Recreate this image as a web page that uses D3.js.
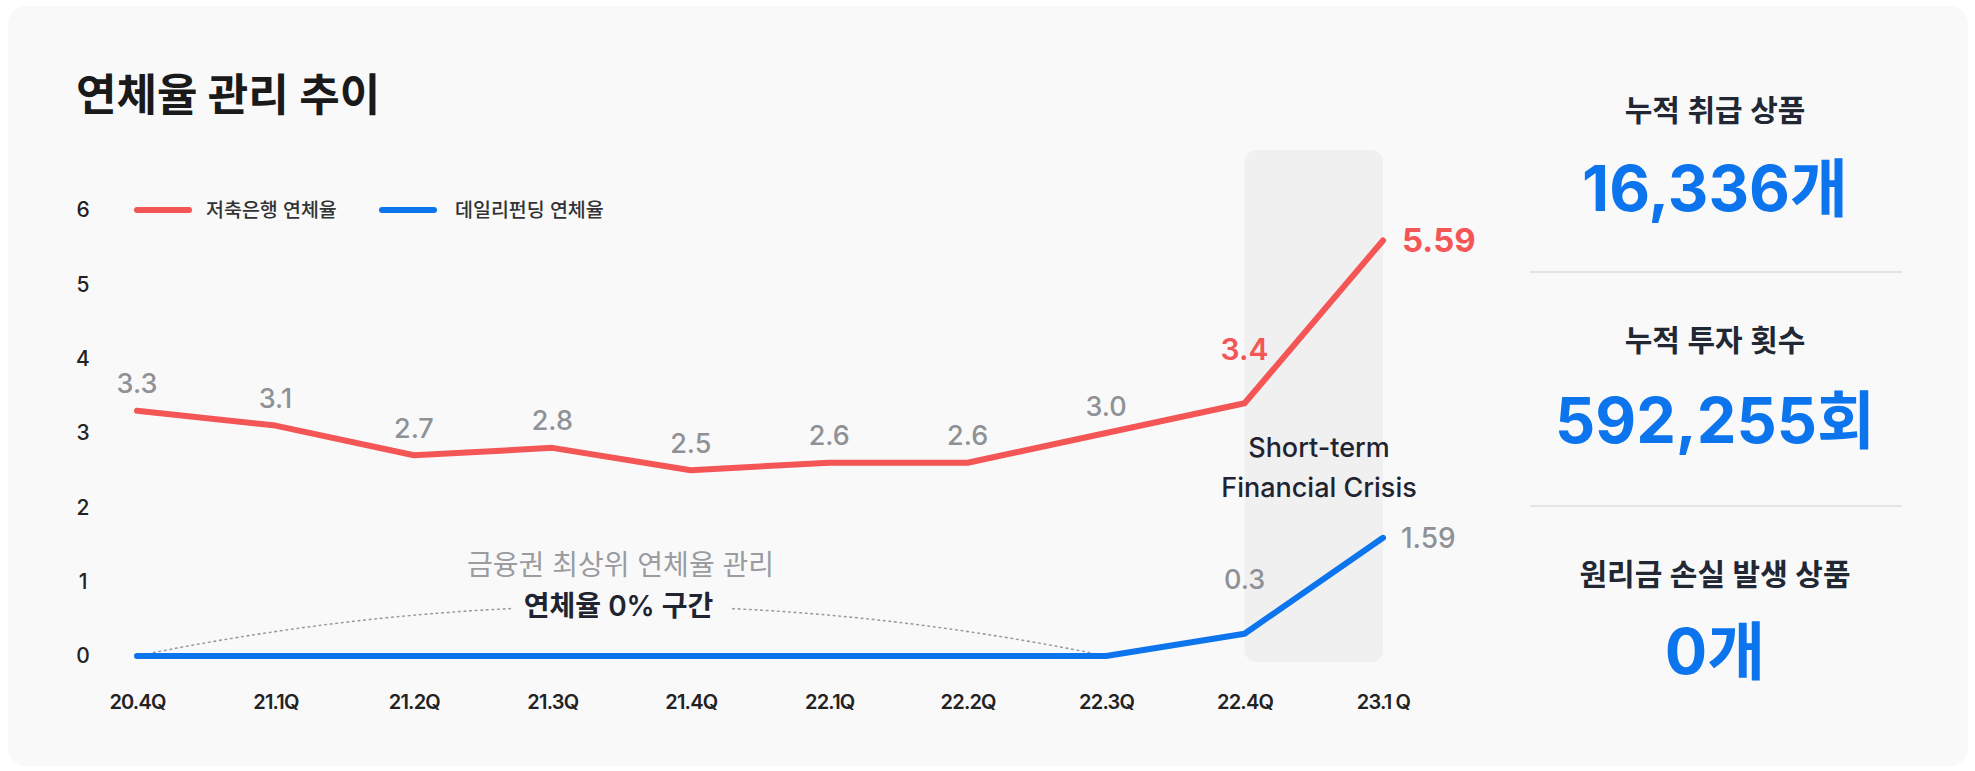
<!DOCTYPE html>
<html>
<head>
<meta charset="utf-8">
<script src="https://cdn.jsdelivr.net/npm/d3@7/dist/d3.min.js"></script>
<style>
  html, body { margin: 0; padding: 0; background: #ffffff; }
  svg { display: block; font-family: Inter, "Noto Sans CJK KR", "Noto Sans", sans-serif; }
</style>
</head>
<body>
<svg id="chart" width="1975" height="771"></svg>
<script>
// ---- data ----
const categories = ["20.4Q","21.1Q","21.2Q","21.3Q","21.4Q","22.1Q","22.2Q","22.3Q","22.4Q","23.1 Q"];
const savingsBankRate = [3.3, 3.1, 2.7, 2.8, 2.5, 2.6, 2.6, 3.0, 3.4, 5.59];
const dailyFundingRate = [0, 0, 0, 0, 0, 0, 0, 0, 0.3, 1.59];
const savingsLabels = ["3.3","3.1","2.7","2.8","2.5","2.6","2.6","3.0","3.4","5.59"];
const dailyLabels = ["0.3","1.59"];
const yTicks = [0, 1, 2, 3, 4, 5, 6];
const seriesNames = ["저축은행 연체율", "데일리펀딩 연체율"];
const stats = [
  { title: "누적 취급 상품", value: "16,336개" },
  { title: "누적 투자 횟수", value: "592,255회" },
  { title: "원리금 손실 발생 상품", value: "0개" }
];

// ---- styles ----
const RED = "#f45656", BLUE = "#0c74ec", GRAY = "#8e9196", DARK = "#1f2430", CARD = "#f9f9fa";

const svg = d3.select("#chart");
svg.append("rect").attr("x", 8).attr("y", 6).attr("width", 1960).attr("height", 760)
  .attr("rx", 18).attr("fill", CARD);

// title
svg.append("text").attr("x", 76).attr("y", 111).attr("font-size", 44).attr("font-weight", 700)
  .attr("fill", "#1a1a1a").text("연체율 관리 추이");

const x = d3.scalePoint().domain(categories).range([137, 1383]);
const y = d3.scaleLinear().domain([0, 6]).range([656, 210]);

// crisis band
const bx0 = x(categories[8]), bx1 = x(categories[9]);
svg.append("rect").attr("x", bx0).attr("y", 150).attr("width", bx1 - bx0).attr("height", 512)
  .attr("rx", 12).attr("fill", "#f0f0f1");
svg.append("text").attr("x", 1319).attr("y", 447).attr("text-anchor", "middle").attr("dominant-baseline", "central")
  .attr("font-size", 27).attr("font-weight", 500).attr("fill", DARK).text("Short-term");
svg.append("text").attr("x", 1319).attr("y", 487).attr("text-anchor", "middle").attr("dominant-baseline", "central")
  .attr("font-size", 27).attr("font-weight", 500).attr("fill", DARK).text("Financial Crisis");

// y axis
const yAxis = svg.append("g").attr("transform", "translate(90,0)")
  .call(d3.axisLeft(y).tickValues(yTicks).tickSize(0).tickPadding(0).tickFormat(d3.format("d")));
yAxis.select(".domain").remove();
yAxis.selectAll("text").attr("font-size", 21).attr("font-weight", 500).attr("fill", "#222")
  .attr("font-family", "Inter, 'Noto Sans CJK KR', sans-serif").attr("text-anchor", "middle").attr("x", -7);

// x axis
const xAxis = svg.append("g").attr("transform", "translate(0,695)")
  .call(d3.axisBottom(x).tickSize(0).tickPadding(0));
xAxis.select(".domain").remove();
xAxis.selectAll("text").attr("font-size", 20).attr("font-weight", 600).attr("fill", "#222")
  .attr("letter-spacing", -0.8).attr("font-family", "Inter, 'Noto Sans CJK KR', sans-serif");

// zero-rate annotation arc
const ax0 = x(categories[0]), ax1 = x(categories[7]), axm = (ax0 + ax1) / 2;
svg.append("path")
  .attr("d", `M${ax0},${y(0)} Q${axm},${y(0) - 100} ${ax1},${y(0)}`)
  .attr("fill", "none").attr("stroke", "#9a9ca0").attr("stroke-width", 1.6)
  .attr("stroke-dasharray", "1.6,4").attr("stroke-linecap", "round");
svg.append("rect").attr("x", axm - 110).attr("y", 586).attr("width", 220).attr("height", 40).attr("fill", CARD);
svg.append("text").attr("x", axm - 1).attr("y", 565).attr("text-anchor", "middle").attr("dominant-baseline", "central")
  .attr("font-size", 28).attr("font-weight", 400).attr("fill", "#9a9ca0").text("금융권 최상위 연체율 관리");
svg.append("text").attr("x", axm - 3).attr("y", 606).attr("text-anchor", "middle").attr("dominant-baseline", "central")
  .attr("font-size", 28).attr("font-weight", 600).attr("fill", DARK).text("연체율 0% 구간");

// lines
const line = d3.line().x((d, i) => x(categories[i])).y(d => y(d));
svg.append("path").datum(dailyFundingRate).attr("d", line).attr("fill", "none")
  .attr("stroke", BLUE).attr("stroke-width", 6).attr("stroke-linecap", "round").attr("stroke-linejoin", "round");
svg.append("path").datum(savingsBankRate).attr("d", line).attr("fill", "none")
  .attr("stroke", RED).attr("stroke-width", 6).attr("stroke-linecap", "round").attr("stroke-linejoin", "round");

// red labels
savingsBankRate.forEach((v, i) => {
  const t = svg.append("text").attr("dominant-baseline", "central").text(savingsLabels[i]);
  if (i < 8) {
    t.attr("x", x(categories[i])).attr("y", y(v) - 27).attr("text-anchor", "middle")
      .attr("font-size", 27).attr("font-weight", 500).attr("fill", GRAY);
  } else if (i === 8) {
    t.attr("x", x(categories[i])).attr("y", y(v) - 54).attr("text-anchor", "middle")
      .attr("font-size", 30).attr("font-weight", 600).attr("fill", RED);
  } else {
    t.attr("x", x(categories[i]) + 19).attr("y", y(v)).attr("text-anchor", "start")
      .attr("font-size", 33).attr("font-weight", 700).attr("fill", RED);
  }
});
// blue labels
svg.append("text").attr("x", x(categories[8])).attr("y", y(dailyFundingRate[8]) - 54)
  .attr("text-anchor", "middle").attr("dominant-baseline", "central")
  .attr("font-size", 27).attr("font-weight", 500).attr("fill", GRAY).text(dailyLabels[0]);
svg.append("text").attr("x", x(categories[9]) + 18).attr("y", y(dailyFundingRate[9]))
  .attr("text-anchor", "start").attr("dominant-baseline", "central")
  .attr("font-size", 28).attr("font-weight", 500).attr("fill", GRAY).text(dailyLabels[1]);

// legend
const legend = svg.append("g");
[[RED, 137, 206], [BLUE, 382, 455]].forEach(([c, lx, tx], i) => {
  legend.append("line").attr("x1", lx).attr("x2", lx + 52).attr("y1", 210).attr("y2", 210)
    .attr("stroke", c).attr("stroke-width", 6).attr("stroke-linecap", "round");
  legend.append("text").attr("x", tx).attr("y", 210).attr("dominant-baseline", "central")
    .attr("font-size", 19.5).attr("font-weight", 500).attr("fill", "#333").text(seriesNames[i]);
});

// stats panel
const statTitleY = [110, 340, 574], statValueY = [188, 420, 651];
stats.forEach((s, i) => {
  svg.append("text").attr("x", 1715).attr("y", statTitleY[i]).attr("text-anchor", "middle")
    .attr("dominant-baseline", "central").attr("font-size", 30).attr("font-weight", 600)
    .attr("fill", "#222833").text(s.title);
  svg.append("text").attr("x", 1715).attr("y", statValueY[i]).attr("text-anchor", "middle")
    .attr("dominant-baseline", "central").attr("font-size", 63).attr("font-weight", 700)
    .attr("fill", BLUE).text(s.value);
});
[272, 506].forEach(yy => {
  svg.append("line").attr("x1", 1530).attr("x2", 1902).attr("y1", yy).attr("y2", yy)
    .attr("stroke", "#dcdde0").attr("stroke-width", 1.5);
});
</script>
</body>
</html>
